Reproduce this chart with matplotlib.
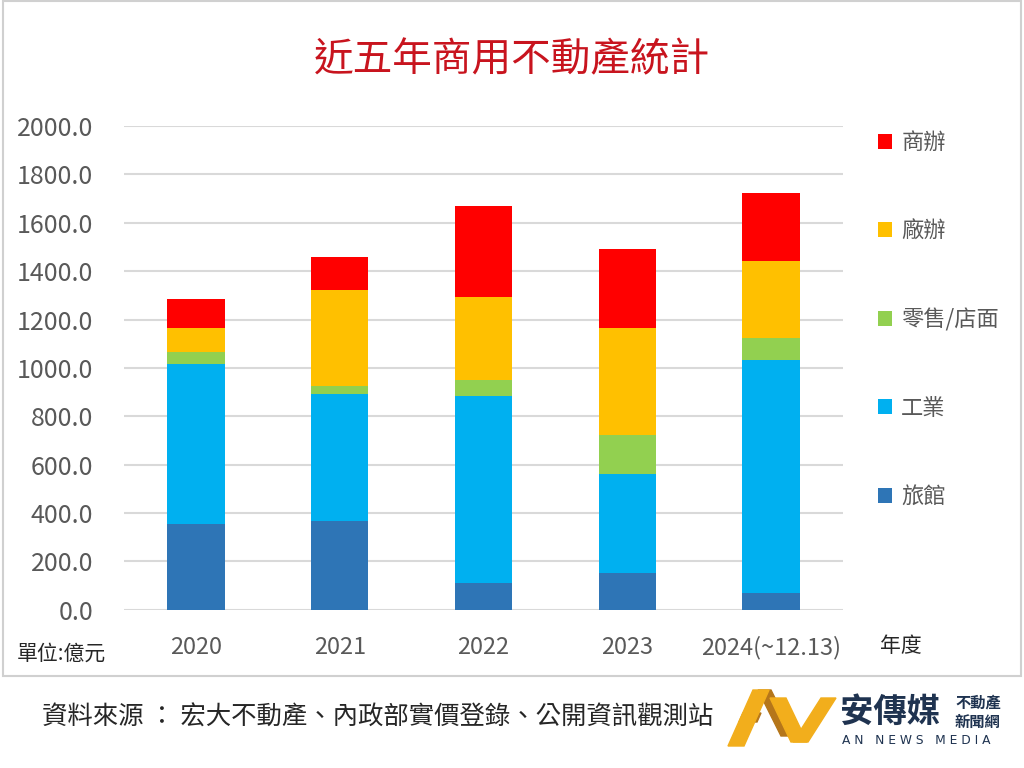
import matplotlib
matplotlib.use("Agg")
import matplotlib.pyplot as plt
from matplotlib.patches import Polygon, Rectangle
import numpy as np

plt.rcParams['font.family'] = ['Noto Sans CJK TC', 'DejaVu Sans']

# ---- data ----
years = ["2020", "2021", "2022", "2023", "2024(~12.13)"]
series_names = ["旅館", "工業", "零售/店面", "廠辦", "商辦"]
hotel = [354, 369, 112, 154, 71]
industrial = [663, 523, 770, 407, 963]
retail = [48, 32, 67, 161, 91]
factory_office = [98, 400, 346, 445, 316]
office = [121, 133, 373, 323, 282]
series_values = [hotel, industrial, retail, factory_office, office]
colors = ["#2E75B6", "#00B0F0", "#92D050", "#FFC000", "#FF0000"]
yticks = [0, 200, 400, 600, 800, 1000, 1200, 1400, 1600, 1800, 2000]

TXT = "#595959"
W, H = 1024, 768
fig = plt.figure(figsize=(10.24, 7.68), dpi=100)
fig.patch.set_facecolor("white")

ax = fig.add_axes([124 / W, 1 - 609.8 / H, (843 - 124) / W, (609.8 - 126) / H])
x = np.arange(len(years))
bottom = np.zeros(len(years))
handles = []
for name, vals, c in zip(series_names, series_values, colors):
    b = ax.bar(x, vals, width=0.4, bottom=bottom, color=c, label=name, zorder=3)
    handles.append(b)
    bottom += np.array(vals)

ax.set_xlim(-0.5, len(years) - 0.5)
ax.set_ylim(0, 2000)
ax.set_yticks(yticks)
ax.set_yticklabels([f"{v:.1f}" for v in yticks])
ax.set_xticks(x)
ax.set_xticklabels(years)
ax.tick_params(axis="y", length=0, pad=22, labelsize=18, labelcolor=TXT)
ax.tick_params(axis="x", length=0, pad=19, labelsize=17, labelcolor=TXT)
ax.grid(axis="y", color="#D9D9D9", linewidth=1.5, zorder=0)
for s in ax.spines.values():
    s.set_visible(False)

leg = fig.legend(handles[::-1], series_names[::-1], loc="upper left",
                 bbox_to_anchor=(869 / W, 1 - 122 / H), frameon=False,
                 fontsize=16, labelcolor=TXT, handlelength=0.65, handleheight=0.65,
                 handletextpad=0.4, labelspacing=2.95, borderaxespad=0)

fig.text(512 / W, 1 - 60 / H, "近五年商用不動產統計", ha="center", va="center",
         fontsize=28.5, color="#C8141E")
fig.text(17 / W, 1 - 654 / H, "單位:億元", ha="left", va="center", fontsize=15, color="#262626")
fig.text(880 / W, 1 - 646 / H, "年度", ha="left", va="center", fontsize=15, color="#262626")
fig.text(42 / W, 1 - 718 / H, "資料來源 ： 宏大不動產、內政部實價登錄、公開資訊觀測站",
         ha="left", va="center", fontsize=18.3, color="#262626")

# overlay in pixel coordinates for frame and logo
ov = fig.add_axes([0, 0, 1, 1], zorder=5)
ov.set_xlim(0, W)
ov.set_ylim(H, 0)
ov.axis("off")
ov.patch.set_alpha(0)
ov.add_patch(Rectangle((3, 1), 1018, 675, fill=False, edgecolor="#D0D0D0", linewidth=1.5))

gold = "#F2AE1C"
brown = "#B5761A"
ov.add_patch(Polygon([(758, 690), (771, 690), (794, 736), (781, 736)], color=brown))
ov.add_patch(Polygon([(743, 713), (761, 713), (757, 722), (739, 722)], color=brown))
ov.add_patch(Polygon([(728, 746), (744, 746), (769, 690), (753, 690)], color=gold))
ov.add_patch(Polygon([(770, 698), (786, 698), (807, 742), (791, 742)], color=gold))
ov.add_patch(Polygon([(793, 742), (808, 742), (836, 698), (821, 698)], color=gold))

ov.text(840, 712, "安傳媒", ha="left", va="center", fontsize=24, fontweight="bold", color="#1F3350")
ov.text(955, 702, "不動產", ha="left", va="center", fontsize=11, fontweight="bold", color="#1F3350")
ov.text(955, 722, "新聞網", ha="left", va="center", fontsize=11, fontweight="bold", color="#1F3350")
ov.text(842, 741, "A N   N E W S   M E D I A", ha="left", va="center", fontsize=8.8,
        color="#1F3350", family=["DejaVu Sans"])

fig.savefig("out.png", dpi=100, facecolor="white")
